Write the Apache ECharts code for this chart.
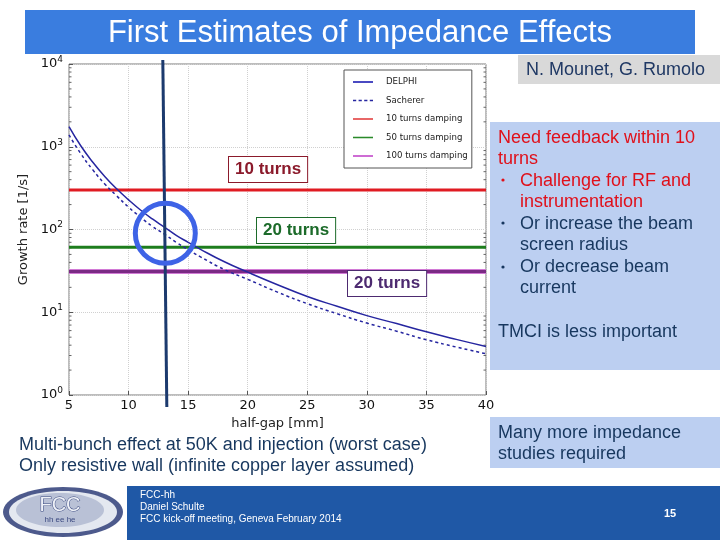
<!DOCTYPE html>
<html>
<head>
<meta charset="utf-8">
<script src="https://cdn.jsdelivr.net/npm/echarts@6/dist/echarts.min.js"></script>
<style>
html, body { margin: 0; padding: 0; background: #ffffff; }
#main { width: 720px; height: 540px; }
</style>
</head>
<body>
<div id="main"></div>
<script>
// half-gap [mm] and growth rates [1/s]
const halfGap = [5, 6, 7, 8, 9, 10, 11, 12, 13, 14, 15, 16, 18, 20, 22.5, 25, 27.5, 30, 32.5, 35, 37.5, 40];
const delphi = [1750, 1020, 650, 438, 310, 228, 172, 134, 107, 85, 70, 58, 41, 30.5, 21.5, 15.5, 11.8, 9.1, 7.3, 5.8, 4.7, 3.86];
const sacherer = [1390, 820, 525, 355, 255, 186, 141, 109, 88, 70, 57, 47, 33, 25, 17.5, 12.7, 9.6, 7.4, 5.9, 4.65, 3.8, 3.15];
// damping rates for 10, 50 and 100 turns
const dampingNames = ['10 turns damping', '50 turns damping', '100 turns damping'];
const dampingRates = [300, 61, 31];
const xRange = [5, 40];
const xTicks = [5, 10, 15, 20, 25, 30, 35, 40];
const yTicks = [1, 10, 100, 1000, 10000];
const minorSteps = [2, 3, 4, 5, 6, 7, 8, 9];

const chart = echarts.init(document.getElementById('main'));
const FONT = 'DejaVu Sans';
const SLIDE = 'Liberation Sans';

function pairs(xs, ys) {
	return xs.map(function (x, i) { return [x, ys[i]]; });
}

// minor tick values of the log axis (2..9 in each decade)
const minorTicks = [];
yTicks.slice(0, -1).forEach(function (d) {
	minorSteps.forEach(function (m) { minorTicks.push([m * d]); });
});

const dampColors = ['#e01b22', '#1d7d1d', '#d27ad6'];
const legendColors = ['#e23a3a', '#2a8a2a', '#c040c8'];
const solidIcon = 'path://M0,0h26v2h-26z';
const dashIcon = 'path://M0,0h4v2h-4zM7,0h4v2h-4zM14,0h4v2h-4zM21,0h4v2h-4z';

const option = {
	backgroundColor: '#ffffff',
	animation: false,
	grid: {
		left: 69,
		right: 234,
		top: 64,
		bottom: 145,
		show: true,
		borderColor: '#7a7a7a',
		borderWidth: 1
	},
	legend: {
		left: 344,
		top: 70,
		orient: 'vertical',
		padding: [6, 4, 6, 9],
		itemGap: 6.5,
		itemWidth: 20,
		itemHeight: 2,
		backgroundColor: '#ffffff',
		borderColor: '#555555',
		borderWidth: 1,
		textStyle: { fontFamily: FONT, fontSize: 8.6, lineHeight: 12, color: '#222222', padding: [0, 0, 0, 8] },
		data: [
			{ name: 'DELPHI', icon: solidIcon, itemStyle: { color: '#1414b0' } },
			{ name: 'Sacherer', icon: dashIcon, itemStyle: { color: '#2626a0' } }
		].concat(dampingNames.map(function (name, i) {
			return { name: name, icon: solidIcon, itemStyle: { color: legendColors[i] } };
		}))
	},
	xAxis: {
		type: 'value',
		min: xRange[0],
		max: xRange[1],
		interval: 5,
		name: 'half-gap [mm]',
		nameLocation: 'middle',
		nameGap: 20,
		nameTextStyle: { fontFamily: FONT, fontSize: 13, color: '#222' },
		axisLine: { show: false },
		axisTick: { inside: true, length: 4, lineStyle: { color: '#555' } },
		axisLabel: { fontFamily: FONT, fontSize: 13, color: '#111', margin: 4 },
		splitLine: { show: true, lineStyle: { color: '#d0d0d0', type: 'dotted' } }
	},
	yAxis: {
		type: 'log',
		logBase: 10,
		min: yTicks[0],
		max: yTicks[yTicks.length - 1],
		name: 'Growth rate [1/s]',
		nameLocation: 'middle',
		nameGap: 32,
		nameTextStyle: { fontFamily: FONT, fontSize: 13, color: '#222' },
		axisLine: { show: false },
		axisTick: { inside: true, length: 4, lineStyle: { color: '#555' } },
		axisLabel: {
			margin: 6,
			formatter: function (v) {
				return '{b|10}{s|' + Math.round(Math.log10(v)) + '}';
			},
			rich: {
				b: { fontFamily: FONT, fontSize: 13, color: '#111' },
				s: { fontFamily: FONT, fontSize: 9, color: '#111', padding: [0, 0, 9, 0] }
			}
		},
		splitLine: { show: true, lineStyle: { color: '#d0d0d0', type: 'dotted' } }
	},
	series: [
		{
			name: 'DELPHI',
			type: 'line',
			smooth: true,
			symbol: 'none',
			color: '#2626a0',
			lineStyle: { color: '#2626a0', width: 1.5 },
			data: pairs(halfGap, delphi),
			z: 5
		},
		{
			name: 'Sacherer',
			type: 'line',
			smooth: true,
			symbol: 'none',
			color: '#2626a0',
			lineStyle: { color: '#2626a0', width: 1.5, type: [3, 3] },
			data: pairs(halfGap, sacherer),
			z: 5
		}
	].concat(dampingNames.map(function (name, i) {
		return {
			name: name,
			type: 'line',
			symbol: 'none',
			color: dampColors[i],
			lineStyle: { color: dampColors[i], width: i === 2 ? 5 : 3 },
			data: [[xRange[0], dampingRates[i]], [xRange[1], dampingRates[i]]],
			z: 3
		};
	})).concat([
		{
			// darker core of the 100 turns line
			type: 'line',
			symbol: 'none',
			silent: true,
			lineStyle: { color: '#7a2b84', width: 3 },
			data: [[xRange[0], dampingRates[2]], [xRange[1], dampingRates[2]]],
			z: 4
		},
		{
			// minor ticks on the log axis, left and right frame
			type: 'custom',
			silent: true,
			encode: { y: 0 },
			data: minorTicks,
			renderItem: function (params, api) {
				const l = api.coord([xRange[0], api.value(0)]);
				const r = api.coord([xRange[1], api.value(0)]);
				const st = { stroke: '#666', lineWidth: 1 };
				return {
					type: 'group',
					children: [
						{ type: 'line', shape: { x1: l[0], y1: l[1], x2: l[0] + 2.5, y2: l[1] }, style: st },
						{ type: 'line', shape: { x1: r[0], y1: r[1], x2: r[0] - 2.5, y2: r[1] }, style: st }
					]
				};
			},
			z: 2
		}
	])
};

chart.setOption(option);

// slide annotations and decoration
const vTop = chart.convertToPixel({ gridIndex: 0 }, [13, 10000]);
const circ = chart.convertToPixel({ gridIndex: 0 }, [13, 90]);

function boxLabel(text, x, y, color) {
	return {
		type: 'text',
		x: x,
		y: y,
		z: 20,
		style: {
			text: text,
			fontFamily: SLIDE,
			fontSize: 17,
			fontWeight: 'bold',
			fill: color,
			backgroundColor: '#ffffff',
			borderColor: color,
			borderWidth: 1,
			padding: [4, 6, 4, 6]
		}
	};
}

function slideText(text, x, y, color) {
	return { type: 'text', x: x, y: y, style: { text: text, fontFamily: SLIDE, fontSize: 18, lineHeight: 21.6, fill: color } };
}

function bullet(y, color) {
	return { type: 'circle', shape: { cx: 503, cy: y, r: 1.6 }, style: { fill: color } };
}

const RED = '#e0101a';
const NAVY = '#17375e';

const graphic = [
	// title bar
	{ type: 'rect', shape: { x: 25, y: 10, width: 670, height: 44 }, style: { fill: '#3a7ddf' } },
	{ type: 'text', x: 360, y: 33, style: { text: 'First Estimates of Impedance Effects', fontFamily: SLIDE, fontSize: 31, fill: '#ffffff', align: 'center', verticalAlign: 'middle' } },
	// author box
	{ type: 'rect', shape: { x: 518, y: 55, width: 202, height: 29 }, style: { fill: '#d9d9d9' } },
	{ type: 'text', x: 526, y: 70, style: { text: 'N. Mounet, G. Rumolo', fontFamily: SLIDE, fontSize: 18, fill: '#1f3864', verticalAlign: 'middle' } },
	// right note box
	{ type: 'rect', shape: { x: 490, y: 122, width: 230, height: 248 }, style: { fill: '#bccff1' } },
	slideText('Need feedback within 10\nturns', 498, 127, RED),
	bullet(180, RED),
	slideText('Challenge for RF and\ninstrumentation', 520, 170, RED),
	bullet(223, NAVY),
	slideText('Or increase the beam\nscreen radius', 520, 213, NAVY),
	bullet(267, NAVY),
	slideText('Or decrease beam\ncurrent', 520, 256, NAVY),
	slideText('TMCI is less important', 498, 321, NAVY),
	// lower note box
	{ type: 'rect', shape: { x: 490, y: 417, width: 230, height: 51 }, style: { fill: '#bccff1' } },
	slideText('Many more impedance\nstudies required', 498, 422, NAVY),
	// bottom text
	slideText('Multi-bunch effect at 50K and injection (worst case)\nOnly resistive wall (infinite copper layer assumed)', 19, 434, NAVY),
	// footer
	{ type: 'rect', shape: { x: 127, y: 486, width: 593, height: 54 }, style: { fill: '#1f58a6' } },
	{ type: 'text', x: 140, y: 489, style: { text: 'FCC-hh\nDaniel Schulte\nFCC kick-off meeting, Geneva February 2014', fontFamily: SLIDE, fontSize: 10, lineHeight: 12.2, fill: '#ffffff' } },
	{ type: 'text', x: 670, y: 514, style: { text: '15', fontFamily: SLIDE, fontSize: 11, fontWeight: 'bold', fill: '#ffffff', align: 'center', verticalAlign: 'middle' } },
	// logo
	{ type: 'ellipse', shape: { cx: 63, cy: 512, rx: 60, ry: 25 }, style: { fill: '#4d5a8c' } },
	{ type: 'ellipse', shape: { cx: 63, cy: 512, rx: 54, ry: 21 }, style: { fill: '#e4e8f0' } },
	{ type: 'ellipse', shape: { cx: 60, cy: 510, rx: 44, ry: 17 }, style: { fill: '#b9c1d6' } },
	{ type: 'text', x: 60, y: 505, style: { text: 'FCC', fontFamily: SLIDE, fontSize: 20, fill: '#eef1f7', stroke: '#3c4a80', lineWidth: 1, align: 'center', verticalAlign: 'middle' } },
	{ type: 'text', x: 60, y: 520, style: { text: 'hh ee he', fontFamily: SLIDE, fontSize: 8, fill: '#3c4a80', align: 'center', verticalAlign: 'middle' } },
	// labels on the damping lines
	boxLabel('10 turns', 229, 157, '#8b1a2b'),
	boxLabel('20 turns', 257, 218, '#1c6b2a'),
	boxLabel('20 turns', 348, 271, '#4d2a70'),
	// hand-drawn marker at 13 mm
	{ type: 'line', z: 30, shape: { x1: vTop[0] - 1.5, y1: 60, x2: vTop[0] + 2.5, y2: 407 }, style: { stroke: '#1c3a6e', lineWidth: 3 } },
	{ type: 'circle', z: 31, shape: { cx: circ[0] + 1, cy: circ[1], r: 30 }, style: { fill: 'none', stroke: '#3e63e6', lineWidth: 5 } }
];

chart.setOption({ graphic: graphic });
</script>
</body>
</html>
